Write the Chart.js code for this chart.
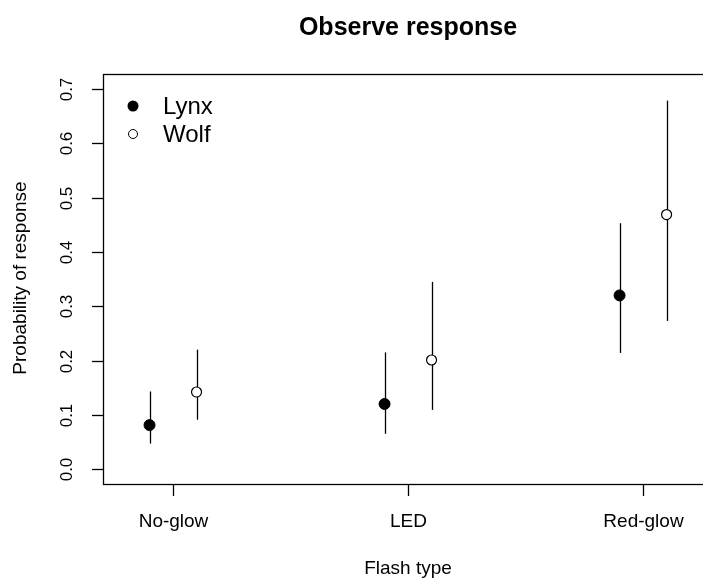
<!DOCTYPE html>
<html>
<head>
<meta charset="utf-8">
<script src="https://cdn.jsdelivr.net/npm/chart.js@4.4.1/dist/chart.umd.min.js"></script>
<style>
  body { margin: 0; background: #fff; overflow: hidden; }
  canvas { display: block; }
</style>
</head>
<body>
<canvas id="chart" width="703" height="581"></canvas>
<script>
// Data
const categories = ['No-glow', 'LED', 'Red-glow'];
const lynxMean = [0.081, 0.12, 0.32];
const lynxLow = [0.047, 0.065, 0.214];
const lynxHigh = [0.143, 0.215, 0.453];
const wolfMean = [0.142, 0.201, 0.469];
const wolfLow = [0.091, 0.109, 0.273];
const wolfHigh = [0.22, 0.345, 0.679];
const yTicks = [0, 0.1, 0.2, 0.3, 0.4, 0.5, 0.6, 0.7];

const FONT = '"Liberation Sans", Arial, Helvetica, sans-serif';
const dodge = 0.1;

const lynxPts = lynxMean.map((v, i) => ({ x: i + 1 - dodge, y: v, lo: lynxLow[i], hi: lynxHigh[i] }));
const wolfPts = wolfMean.map((v, i) => ({ x: i + 1 + dodge, y: v, lo: wolfLow[i], hi: wolfHigh[i] }));

// error bars under the points
const errorBars = {
    id: 'errorBars',
    beforeDatasetsDraw(chart) {
        const { ctx, scales: { x, y } } = chart;
        ctx.save();
        ctx.strokeStyle = '#000';
        ctx.lineWidth = 1.3;
        chart.data.datasets.forEach(ds => {
            ds.data.forEach(p => {
                const px = Math.round(x.getPixelForValue(p.x)) + 0.5;
                ctx.beginPath();
                ctx.moveTo(px, y.getPixelForValue(p.lo));
                ctx.lineTo(px, y.getPixelForValue(p.hi));
                ctx.stroke();
            });
        });
        ctx.restore();
    }
};

// R-style frame, axes, labels, title and legend
const baseFrame = {
    id: 'baseFrame',
    afterDraw(chart) {
        const { ctx, chartArea: a, scales: { x, y } } = chart;
        ctx.save();
        ctx.strokeStyle = '#000';
        ctx.fillStyle = '#000';
        ctx.lineWidth = 1.3;
        ctx.strokeRect(a.left + 0.5, a.top + 0.5, a.right - a.left + 10, a.bottom - a.top);

        // x axis ticks + labels
        ctx.font = '19px ' + FONT;
        ctx.textAlign = 'center';
        ctx.textBaseline = 'middle';
        categories.forEach((c, i) => {
            const px = Math.round(x.getPixelForValue(i + 1)) + 0.5;
            ctx.beginPath();
            ctx.moveTo(px, a.bottom);
            ctx.lineTo(px, a.bottom + 12);
            ctx.stroke();
            ctx.fillText(c, px, 522);
        });

        // y axis ticks + rotated labels
        ctx.font = '17px ' + FONT;
        yTicks.forEach(t => {
            const py = Math.round(y.getPixelForValue(t)) + 0.5;
            ctx.beginPath();
            ctx.moveTo(a.left - 11, py);
            ctx.lineTo(a.left, py);
            ctx.stroke();
            ctx.save();
            ctx.translate(67, py);
            ctx.rotate(-Math.PI / 2);
            ctx.fillText(t.toFixed(1), 0, 0);
            ctx.restore();
        });

        // axis titles
        ctx.font = '19px ' + FONT;
        ctx.fillText('Flash type', 408, 569);
        ctx.save();
        ctx.translate(21, 278);
        ctx.rotate(-Math.PI / 2);
        ctx.fillText('Probability of response', 0, 0);
        ctx.restore();

        // title
        ctx.font = 'bold 25px ' + FONT;
        ctx.fillText('Observe response', 408, 28);

        // legend
        ctx.font = '24px ' + FONT;
        ctx.textAlign = 'left';
        ctx.beginPath();
        ctx.arc(133, 106, 5.5, 0, Math.PI * 2);
        ctx.fill();
        ctx.fillText('Lynx', 163, 107);
        ctx.beginPath();
        ctx.lineWidth = 1;
        ctx.arc(133, 134, 4.5, 0, Math.PI * 2);
        ctx.stroke();
        ctx.fillText('Wolf', 163, 135);
        ctx.restore();
    }
};

new Chart(document.getElementById('chart'), {
    type: 'scatter',
    data: {
        datasets: [{
            label: 'Lynx',
            data: lynxPts,
            pointRadius: 5.5,
            pointBackgroundColor: '#000',
            pointBorderColor: '#000',
            pointBorderWidth: 1
        }, {
            label: 'Wolf',
            data: wolfPts,
            pointRadius: 5,
            pointBackgroundColor: '#fff',
            pointBorderColor: '#000',
            pointBorderWidth: 1.2
        }]
    },
    options: {
        responsive: false,
        animation: false,
        layout: { autoPadding: false, padding: { left: 103, top: 74, right: 0, bottom: 97 } },
        plugins: {
            legend: { display: false },
            tooltip: { enabled: false }
        },
        scales: {
            x: { type: 'linear', display: false, min: 0.702, max: 3.255 },
            y: { type: 'linear', display: false, min: -0.0275, max: 0.728 }
        }
    },
    plugins: [errorBars, baseFrame]
});
</script>
</body>
</html>
